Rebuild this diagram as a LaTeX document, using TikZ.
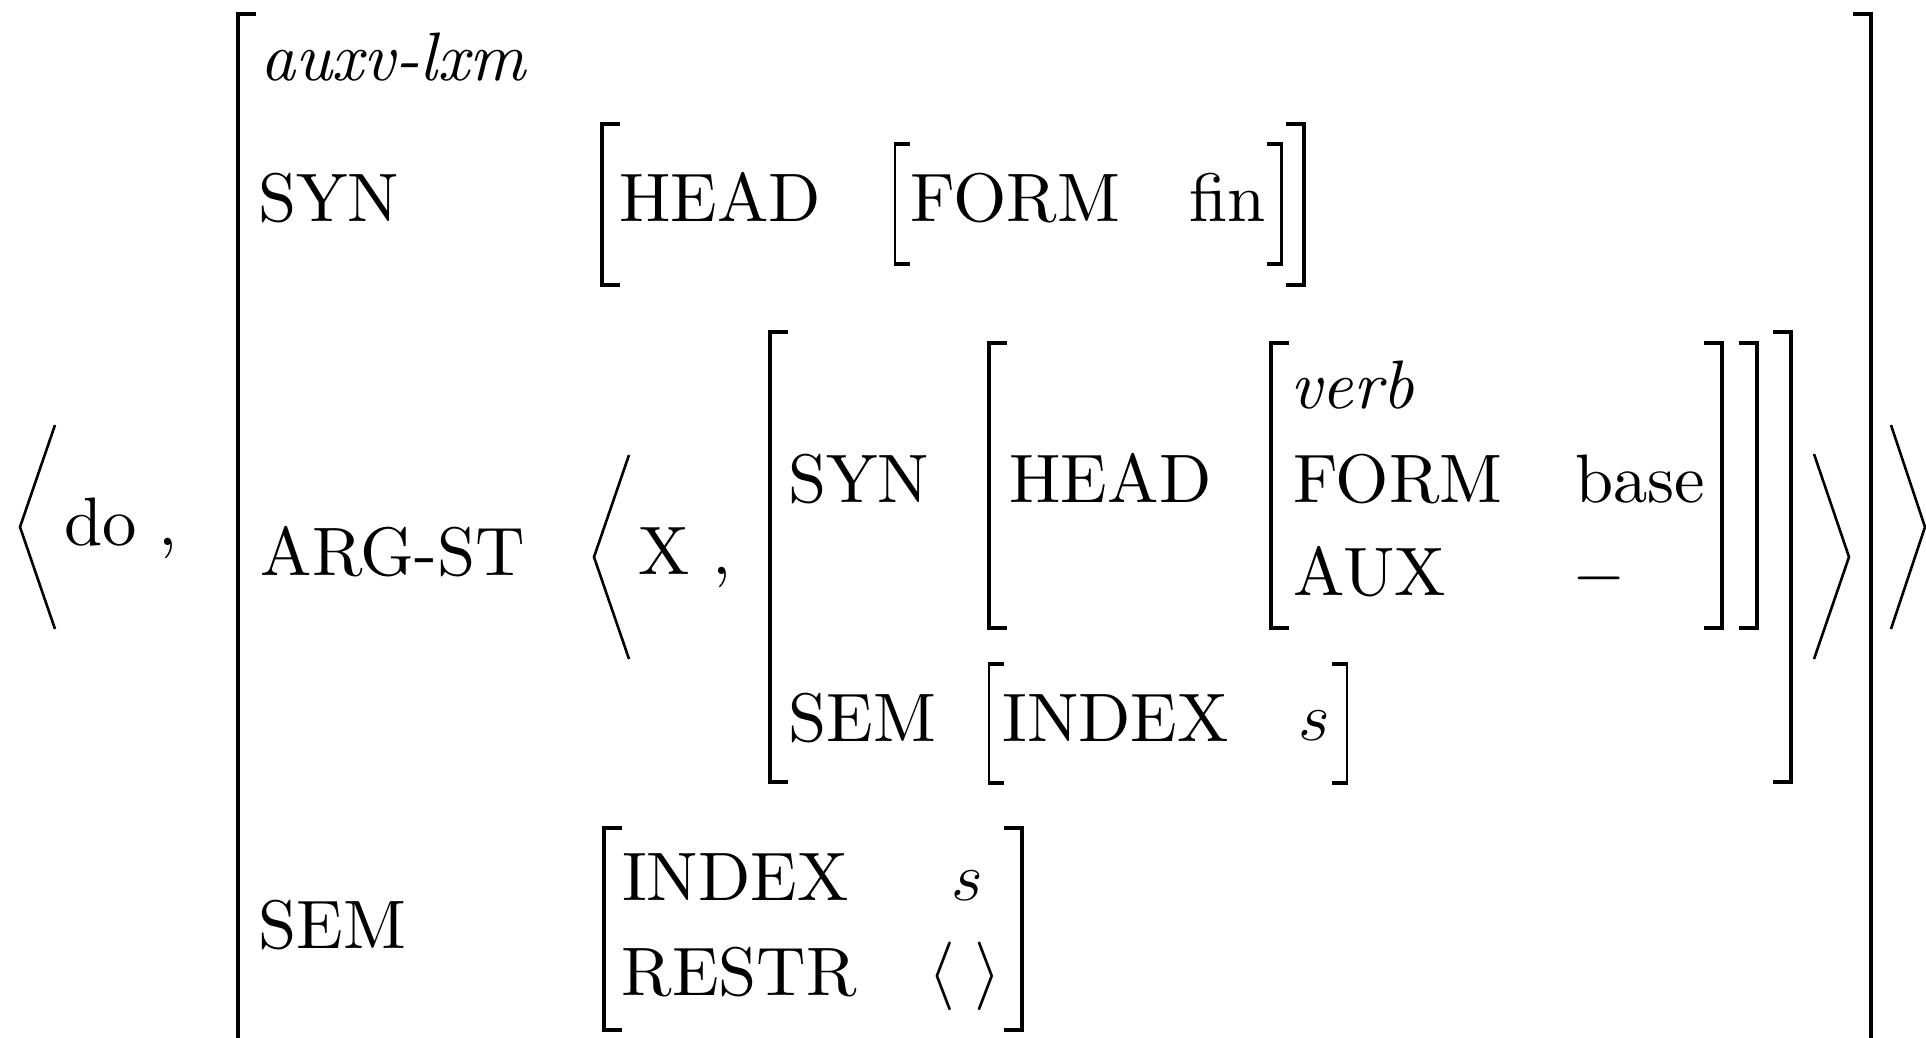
\RequirePackage{fix-cm}
\documentclass[tikz,border=0pt]{standalone}
\usepackage{fontspec}
\setmainfont{lmroman10-regular.otf}[ItalicFont=lmroman10-italic.otf]
\tikzset{
  lbl/.style={anchor=base west, inner sep=0pt, outer sep=0pt, font=\fontsize{68.6}{82}\selectfont},
  dlm/.style={anchor=center, inner sep=0pt, outer sep=0pt, font=\fontsize{68.6}{82}\selectfont},
  thickbrk/.style={line width=4pt, line join=miter, line cap=butt},
  thinstem/.style={line width=2.4pt, line cap=butt},
  thinarm/.style={line width=3.6pt, line cap=butt},
  angl/.style={line width=2.6pt, line join=miter, line cap=butt}
}
% thin bracket: #1 = stem x, #2 = top, #3 = bottom, #4 = arm direction (+1 left bracket, -1 right bracket)
\newcommand\thinbracket[4]{%
  \draw[thinstem] (#1,#2) -- (#1,#3);
  \draw[thinarm] (#1-#4*1.2,#2+1.8) -- (#1+#4*15,#2+1.8);
  \draw[thinarm] (#1-#4*1.2,#3-1.8) -- (#1+#4*15,#3-1.8);}
\begin{document}
\begin{tikzpicture}[x=1pt,y=-1pt]
\useasboundingbox (0,0) rectangle (1926,1037);
% outer angles
\draw[angl] (55,425) -- (20,527) -- (55,629);
\draw[angl] (1891,425) -- (1925,527) -- (1891,629);
\node[lbl] (do) at (64,545) {do};
\node[lbl] (c1) at (158,545) {,};
% outer bracket
\draw[thickbrk] (256,14) -- (238.3,14) -- (238.3,1060);
\draw[thickbrk] (1853,14) -- (1870.8,14) -- (1870.8,1060);
% type
\node[lbl] (type) at (260,80) {\itshape auxv-lxm};
% SYN row
\node[lbl] (syn1) at (258,221.7) {SYN};
\draw[thickbrk] (620,124) -- (602,124) -- (602,285) -- (620,285);
\draw[thickbrk] (1286,124) -- (1304,124) -- (1304,285) -- (1286,285);
\node[lbl] (head1) at (619.3,221.7) {HEAD};
\thinbracket{895}{142}{266}{1}
\thinbracket{1281.5}{142}{266}{-1}
\node[lbl] (form1) at (910.4,221.7) {FORM};
\node[lbl] (fin) at (1189.5,221.7) {fin};
% ARG-ST row
\node[lbl] (argst) at (260.6,575) {ARG-ST};
\draw[angl] (629,455) -- (594,557) -- (629,659);
\draw[angl] (1814,454) -- (1849,557) -- (1814,659);
\node[lbl] (x) at (638.8,574) {X};
\node[lbl] (c2) at (712.8,574) {,};
\draw[thickbrk] (788,332) -- (770,332) -- (770,781.7) -- (788,781.7);
\draw[thickbrk] (1773,332) -- (1791,332) -- (1791,781.7) -- (1773,781.7);
\node[lbl] (syn2) at (788.2,502.5) {SYN};
\draw[thickbrk] (1007,343) -- (989,343) -- (989,628.3) -- (1007,628.3);
\draw[thickbrk] (1738.5,343) -- (1756.5,343) -- (1756.5,628.3) -- (1738.5,628.3);
\node[lbl] (head2) at (1009.5,502.5) {HEAD};
\draw[thickbrk] (1289,343) -- (1271,343) -- (1271,628.3) -- (1289,628.3);
\draw[thickbrk] (1704,343) -- (1722,343) -- (1722,628.3) -- (1704,628.3);
\node[lbl] (verb) at (1290.3,408.3) {\itshape verb};
\node[lbl] (form2) at (1293,502.5) {FORM};
\node[lbl] (base) at (1575.5,502.5) {base};
\node[lbl] (aux) at (1293.6,595) {AUX};
\node[lbl] (minus) at (1572,595) {$-$};
\node[lbl] (sem2) at (788.2,741.7) {SEM};
\thinbracket{989}{662}{784.5}{1}
\thinbracket{1347}{662}{784.5}{-1}
\node[lbl] (index2) at (1002.3,741.7) {INDEX};
\node[lbl] (s2) at (1298.7,740) {$s$};
% SEM row
\node[lbl] (sem1) at (258.2,948.3) {SEM};
\draw[thickbrk] (621.5,828.3) -- (603.5,828.3) -- (603.5,1030) -- (621.5,1030);
\draw[thickbrk] (1004.3,828.3) -- (1022.3,828.3) -- (1022.3,1030) -- (1004.3,1030);
\node[lbl] (index1) at (622,900) {INDEX};
\node[lbl] (s1) at (951,900) {$s$};
\node[lbl] (restr) at (621.6,995) {RESTR};
\node[dlm] (la) at (942,976) {$\langle$};
\node[dlm] (ra) at (988,976) {$\rangle$};
\end{tikzpicture}
\end{document}
